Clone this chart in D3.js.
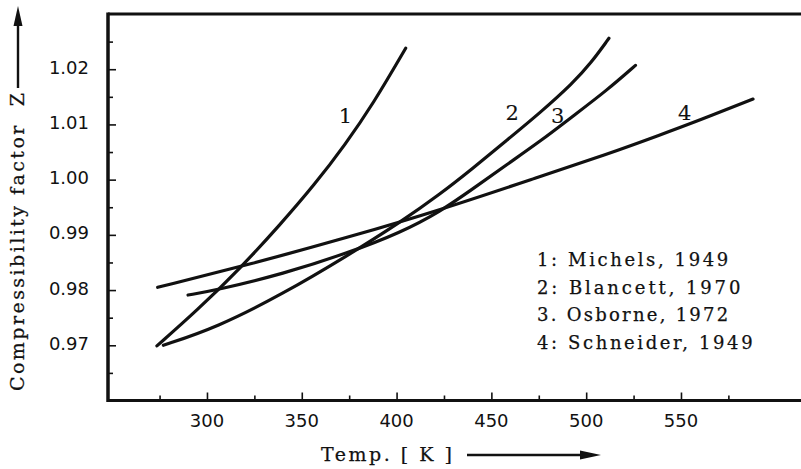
<!DOCTYPE html>
<html>
<head>
<meta charset="utf-8">
<script src="https://cdn.jsdelivr.net/npm/d3@7"></script>
<style>
  body { margin: 0; background: #fff; }
  svg { display: block; }
  .serif { font-family: "DejaVu Serif", "Liberation Serif", serif; font-size: 18px; fill: #111; stroke: #111; stroke-width: 0.25px; white-space: pre; }
  .tick text { font-family: "DejaVu Sans", sans-serif; font-size: 18px; fill: #111; }
</style>
</head>
<body>
<svg id="chart" width="801" height="469"></svg>
<script>
// values: temperature [K] vs compressibility factor Z
const michelsT = [273.6, 294.7, 317.4, 338.5, 357, 372.8, 387.6, 404.8];
const michelsZ = [0.9699, 0.9763, 0.9839, 0.9918, 0.9992, 1.0063, 1.0137, 1.0238];

const blancettT = [277, 305, 340, 374, 402, 423, 440, 458, 476, 493, 502.5, 512];
const blancettZ = [0.9700, 0.9732, 0.9793, 0.9862, 0.9923, 0.9974, 1.0020, 1.0071, 1.0122, 1.0175, 1.0211, 1.0256];

const osborneT = [290, 305, 340, 375, 402, 423, 440.5, 458, 476, 493, 511, 526];
const osborneZ = [0.9791, 0.9800, 0.9829, 0.9868, 0.9904, 0.9942, 0.9984, 1.0027, 1.0070, 1.0115, 1.0162, 1.0207];

const schneiderT = [274, 323, 375, 423, 476, 511, 539, 560, 588];
const schneiderZ = [0.9805, 0.9847, 0.9896, 0.9945, 1.0006, 1.0046, 1.0081, 1.0108, 1.0146];

const seriesIds = ['1', '2', '3', '4'];
const legendLabels = ['1: Michels, 1949', '2: Blancett, 1970', '3. Osborne, 1972', '4: Schneider, 1949'];

// where the curve numbers sit (data units)
const labelT = [373, 461, 485, 552];
const labelZ = [1.0115, 1.0120, 1.0115, 1.0120];

const xMajor = [300, 350, 400, 450, 500, 550];
const xMinor = [275, 325, 375, 425, 475, 525, 575];
const yMajor = [0.97, 0.98, 0.99, 1.00, 1.01, 1.02];
const yMinor = [0.965, 0.975, 0.985, 0.995, 1.005, 1.015, 1.025];

const svg = d3.select('#chart');
const W = 801, H = 469;
const mLeft = 108, mTop = 14, mBottom = 400.5;

const x = d3.scaleLinear().domain([247.8, 613.3]).range([mLeft, W]);
const y = d3.scaleLinear().domain([0.96, 1.03]).range([mBottom, mTop]);

// axes (ticks point inward)
const gx = svg.append('g').attr('transform', `translate(0,${mBottom})`);
gx.call(d3.axisTop(x).tickValues(xMajor).tickSize(8).tickFormat(''));
gx.append('g').call(d3.axisTop(x).tickValues(xMinor).tickSize(5).tickFormat(''));
gx.selectAll('.domain').remove();
gx.selectAll('line').attr('stroke', '#111').attr('stroke-width', 1.6);
svg.append('g').attr('class', 'tick')
  .selectAll('text').data(xMajor).join('text')
  .attr('x', d => x(d)).attr('y', 427)
  .attr('text-anchor', 'middle')
  .text(d => d);

const gy = svg.append('g').attr('transform', `translate(${mLeft},0)`);
gy.call(d3.axisLeft(y).tickValues(yMajor).tickSize(-8).tickPadding(19).tickFormat(d3.format('.2f')));
gy.append('g').call(d3.axisLeft(y).tickValues(yMinor).tickSize(-5).tickFormat(''));
gy.selectAll('.domain').remove();
gy.selectAll('line').attr('stroke', '#111').attr('stroke-width', 1.6);
gy.selectAll('text').attr('dy', null).attr('y', 4).attr('fill', '#111');

// frame: left, top and bottom only
svg.append('line').attr('x1', mLeft).attr('x2', mLeft).attr('y1', mTop - 1.5).attr('y2', mBottom + 1.5)
  .attr('stroke', '#111').attr('stroke-width', 3.5);
svg.append('line').attr('x1', mLeft).attr('x2', W).attr('y1', mTop).attr('y2', mTop)
  .attr('stroke', '#111').attr('stroke-width', 3);
svg.append('line').attr('x1', mLeft).attr('x2', W).attr('y1', mBottom).attr('y2', mBottom)
  .attr('stroke', '#111').attr('stroke-width', 3);

// curves (basis spline smooths the hand-read points)
const series = [
  d3.zip(michelsT, michelsZ),
  d3.zip(blancettT, blancettZ),
  d3.zip(osborneT, osborneZ),
  d3.zip(schneiderT, schneiderZ)
];
const line = d3.line().x(d => x(d[0])).y(d => y(d[1])).curve(d3.curveBasis);
svg.append('g').selectAll('path').data(series).join('path')
  .attr('d', line)
  .attr('fill', 'none')
  .attr('stroke', '#111')
  .attr('stroke-width', 3.2)
  .attr('stroke-linecap', 'round');

svg.append('g').selectAll('text').data(seriesIds).join('text')
  .attr('class', 'serif')
  .attr('x', (d, i) => x(labelT[i]))
  .attr('y', (d, i) => y(labelZ[i]))
  .attr('text-anchor', 'middle')
  .attr('dominant-baseline', 'central')
  .style('font-size', '21px')
  .style('stroke-width', '0.1px')
  .text(d => d);

// legend, stretched to the typewriter pitch of the original
svg.append('g').selectAll('text').data(legendLabels).join('text')
  .attr('class', 'serif')
  .attr('x', 537)
  .attr('y', (d, i) => 266 + i * 27.7)
  .attr('textLength', d => d.length * 12.2 - 4)
  .attr('lengthAdjust', 'spacing')
  .text(d => d);

// axis titles with arrows
svg.append('text').attr('class', 'serif')
  .attr('x', 321).attr('y', 461)
  .attr('textLength', 131).attr('lengthAdjust', 'spacing')
  .style('font-size', '19px')
  .text('Temp. [ K ]');
svg.append('line').attr('x1', 467).attr('x2', 584).attr('y1', 455).attr('y2', 455)
  .attr('stroke', '#111').attr('stroke-width', 2.4);
svg.append('path').attr('d', 'M580,450.5 L601,455 L580,459.5 Z').attr('fill', '#111');

svg.append('text').attr('class', 'serif')
  .attr('transform', 'translate(23.5,242) rotate(-90)')
  .attr('text-anchor', 'middle')
  .attr('textLength', 298).attr('lengthAdjust', 'spacing')
  .style('font-size', '19px')
  .text('Compressibility factor  Z');
svg.append('line').attr('x1', 18).attr('x2', 18).attr('y1', 88).attr('y2', 22)
  .attr('stroke', '#111').attr('stroke-width', 2.4);
svg.append('path').attr('d', 'M13.5,26 L18,6 L22.5,26 Z').attr('fill', '#111');
</script>
</body>
</html>
